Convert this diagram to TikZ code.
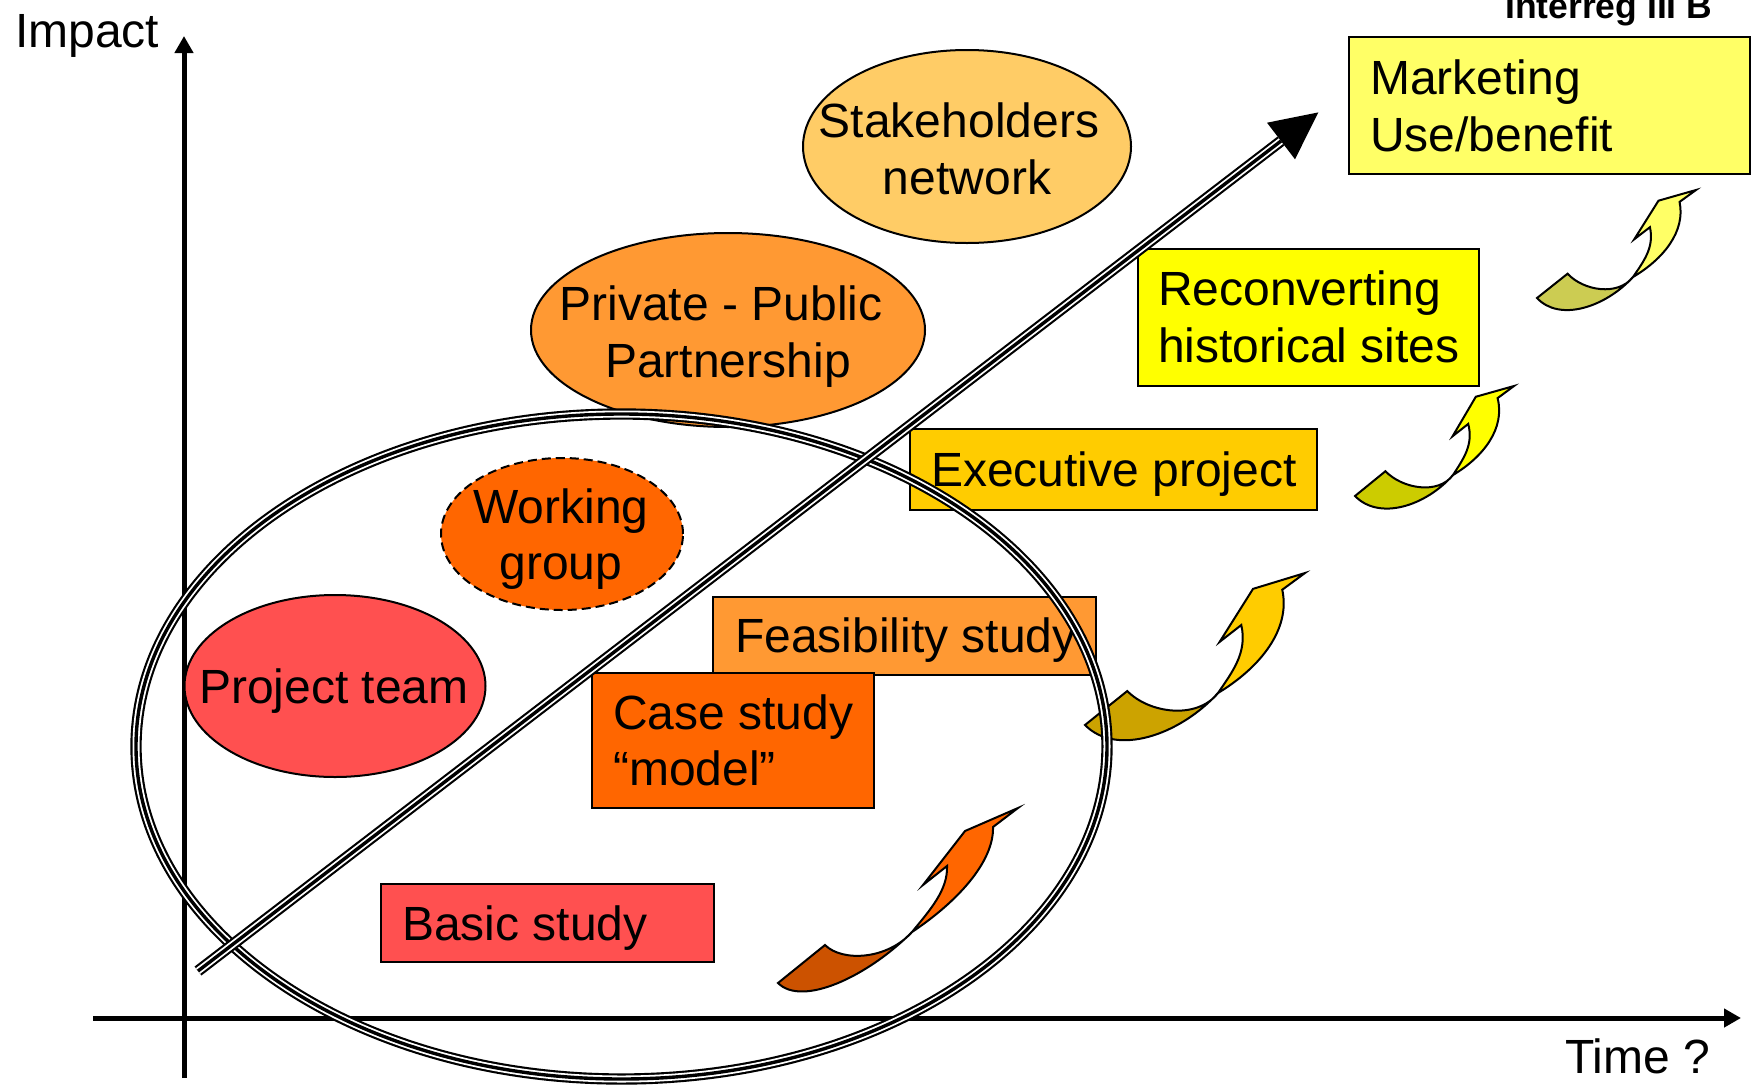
\documentclass[tikz,border=0pt]{standalone}
\usepackage{fontspec}
\setmainfont{Liberation Sans}
\usetikzlibrary{shapes.geometric,arrows.meta}
\definecolor{cMarket}{HTML}{FFFF66}
\definecolor{cRecon}{HTML}{FFFF00}
\definecolor{cExec}{HTML}{FFCC00}
\definecolor{cFeas}{HTML}{FF9933}
\definecolor{cCase}{HTML}{FF6600}
\definecolor{cBasic}{HTML}{FF5050}
\definecolor{cStake}{HTML}{FFCC66}
\definecolor{cPPP}{HTML}{FF9933}
\definecolor{cWork}{HTML}{FF6600}
\definecolor{cTeam}{HTML}{FF5050}
\definecolor{tOrange}{HTML}{CC5200}
\definecolor{tGold}{HTML}{CCA300}
\definecolor{tYellow}{HTML}{CCCC00}
\definecolor{tLight}{HTML}{CCCC52}
\newcommand\twistarrow[2]{%
  \filldraw[fill=#2, arrowline] (-87,13) .. controls (-70,30) and (-25,28) .. (0,0)
     .. controls (-45,45) and (-110,75) .. (-134,51) -- cycle;
  \filldraw[fill=#1, arrowline] (0,0) .. controls (18,-22) and (36,-42) .. (35,-66)
     -- (11,-47) -- (53,-101) -- (106,-124) -- (81,-105)
     .. controls (82,-70) and (45,-30) .. (0,0) -- cycle;
}
\begin{document}
\begin{tikzpicture}[x=1pt,y=-1pt,
  txt/.style={font=\fontsize{48}{57.6}\selectfont, inner sep=0pt},
  ell/.style={ellipse, draw=black, line width=2pt, inner sep=0pt},
  box/.style={rectangle, draw=black, line width=2pt, inner sep=0pt, anchor=north west},
  axis/.style={line width=5pt, -{Triangle[length=17pt,width=18pt]}},
  arrowline/.style={draw=black, line width=2pt},
  tripleline/.style={draw=black, line width=11.3pt,
     postaction={draw=white, line width=7pt},
     postaction={draw=black, line width=3.4pt}}]
\useasboundingbox (0,0) rectangle (1753,1087);
\fill[white] (0,0) rectangle (1753,1087);

% axes
\coordinate (vB) at (184,1078);
\coordinate (vT) at (184,36);
\coordinate (hL) at (93,1018);
\coordinate (hR) at (1741,1018);
\draw[axis] (vB) -- (vT);
\draw[axis] (hL) -- (hR);
\node[txt, anchor=base west] (impact) at (15,47) {Impact};
\node[txt, anchor=base west] (time) at (1565,1073) {Time ?};
\node[anchor=base west, inner sep=0pt, font=\bfseries\fontsize{35.5}{40}\selectfont] (interreg) at (1505,18) {Interreg III B};

% ellipses
\node[ell, fill=cStake, minimum width=328pt, minimum height=193pt] (stake) at (967,146.5) {};
\node[txt, anchor=base] (stake1) at (959,137) {Stakeholders};
\node[txt, anchor=base] (stake2) at (967,194) {network};

\node[ell, fill=cPPP, minimum width=394pt, minimum height=194pt] (ppp) at (728,330) {};
\node[txt, anchor=base] (ppp1) at (721,320) {Private - Public};
\node[txt, anchor=base] (ppp2) at (728,377) {Partnership};

\node[ell, fill=cWork, dashed, dash pattern=on 9pt off 5pt, minimum width=242pt, minimum height=152pt] (work) at (562,534) {};
\node[txt, anchor=base] (work1) at (561,523) {Working};
\node[txt, anchor=base] (work2) at (561,579) {group};

\node[ell, fill=cTeam, minimum width=301pt, minimum height=182pt] (team) at (335,686) {};
\node[txt, anchor=base] (team1) at (334,703) {Project team};

% boxes
\node[box, fill=cBasic, minimum width=333pt, minimum height=78pt] (basic) at (380,883) {};
\node[txt, anchor=base west] (basicT) at (402,940) {Basic study};

\node[box, fill=cFeas, minimum width=383pt, minimum height=78pt] (feas) at (712,596) {};
\node[txt, anchor=base west] (feasT) at (735,652) {Feasibility study};

\node[box, fill=cCase, minimum width=282pt, minimum height=135pt] (case) at (591,672) {};
\node[txt, anchor=base west] (case1) at (613,729) {Case study};
\node[txt, anchor=base west] (case2) at (613,785) {“model”};

\node[box, fill=cExec, minimum width=407pt, minimum height=81pt] (exec) at (909,428) {};
\node[txt, anchor=base west] (execT) at (931,486) {Executive project};

\node[box, fill=cRecon, minimum width=341pt, minimum height=137pt] (recon) at (1137,248) {};
\node[txt, anchor=base west] (recon1) at (1158,305) {Reconverting};
\node[txt, anchor=base west] (recon2) at (1158,362) {historical sites};

\node[box, fill=cMarket, minimum width=401pt, minimum height=137pt] (market) at (1348,36) {};
\node[txt, anchor=base west] (market1) at (1370,94) {Marketing};
\node[txt, anchor=base west] (market2) at (1370,151) {Use/benefit};

% twisted arrows
\begin{scope}[shift={(912,932)}, x={(1pt,0pt)}, y={(0pt,-1pt)}]
  \twistarrow{cCase}{tOrange}
\end{scope}
\begin{scope}[shift={(1218,693)}, x={(1.0754pt,-0.192pt)}, y={(0.2177pt,-1.1318pt)}]
  \twistarrow{cExec}{tGold}
\end{scope}
\begin{scope}[shift={(1453,475)}, x={(0.8065pt,-0.1726pt)}, y={(0.1975pt,-0.8653pt)}]
  \twistarrow{cRecon}{tYellow}
\end{scope}
\begin{scope}[shift={(1633,277)}, x={(0.7753pt,-0.1635pt)}, y={(0.1547pt,-0.8414pt)}]
  \twistarrow{cMarket}{tLight}
\end{scope}

% big ellipse
\coordinate (bigC) at (621.5,746.5);
\draw[tripleline] (bigC) ellipse [x radius=485.5, y radius=332.5];

% diagonal arrow
\coordinate (dS) at (198,971);
\coordinate (dE) at (1281,141);
\coordinate (dTip) at (1318.3,112.4);
\coordinate (dL) at (1267,122.7);
\coordinate (dR) at (1295,159.3);
\draw[tripleline] (dS) -- (dE);
\fill[black] (dTip) -- (dL) -- (dR) -- cycle;
\end{tikzpicture}
\end{document}
